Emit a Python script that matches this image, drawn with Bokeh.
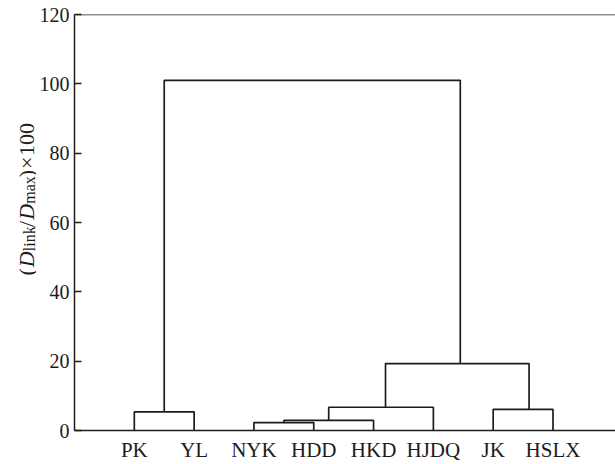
import math
from bokeh.plotting import figure
from bokeh.layouts import row
from bokeh.models import Range1d, FixedTicker, Span
from bokeh.core.properties import value
from bokeh.embed import file_html
from bokeh.resources import INLINE

# ---- data ----
leaves = ["PK", "YL", "NYK", "HDD", "HKD", "HJDQ", "JK", "HSLX"]
leaf_pos = [1, 2, 3, 4, 5, 6, 7, 8]
# dendrogram links (like scipy icoord / dcoord)
link_x_left = [1.0, 3.0, 3.5, 4.25, 7.0, 5.2, 1.5]
link_x_right = [2.0, 4.0, 5.0, 6.0, 8.0, 7.6, 6.45]
link_height = [5.4, 2.3, 2.9, 6.7, 6.1, 19.3, 101.0]
link_base_left = [0, 0, 2.3, 2.9, 0, 6.7, 5.4]
link_base_right = [0, 0, 0, 0, 0, 6.1, 19.3]
y_ticks = [0, 20, 40, 60, 80, 100, 120]

FONT = "Liberation Serif"
INK = "#1c1c1c"
W, H = 615, 464
LW = 36  # width of the y-title strip

# ---- main dendrogram figure ----
p = figure(width=W - LW, height=H, output_backend="svg", toolbar_location=None,
           x_range=Range1d(0, 9.045), y_range=Range1d(0, 120),
           min_border_left=35, min_border_right=0, min_border_top=14, min_border_bottom=34)
p.outline_line_color = None
p.xgrid.grid_line_color = None
p.ygrid.grid_line_color = None

p.xaxis.ticker = FixedTicker(ticks=leaf_pos)
p.xaxis.major_label_overrides = {pos: name for pos, name in zip(leaf_pos, leaves)}
p.xaxis.axis_line_color = INK
p.xaxis.axis_line_width = 1.5
p.xaxis.major_tick_line_color = None
p.xaxis.major_tick_in = 0
p.xaxis.major_tick_out = 0
p.xaxis.minor_tick_line_color = None
p.xaxis.major_label_standoff = 7
p.xaxis.major_label_text_font = FONT
p.xaxis.major_label_text_font_size = "21px"
p.xaxis.major_label_text_color = INK

p.yaxis.ticker = FixedTicker(ticks=y_ticks)
p.yaxis.axis_line_color = INK
p.yaxis.axis_line_width = 1.5
p.yaxis.major_tick_in = 7
p.yaxis.major_tick_out = 0
p.yaxis.major_tick_line_color = INK
p.yaxis.major_tick_line_width = 1.5
p.yaxis.minor_tick_line_color = None
p.yaxis.major_label_text_font = FONT
p.yaxis.major_label_text_font_size = "20px"
p.yaxis.major_label_text_color = INK
p.yaxis.major_label_standoff = 5

p.add_layout(Span(location=120, dimension="width", line_color=INK, line_width=1.5))

xs = [[xl, xl, xr, xr] for xl, xr in zip(link_x_left, link_x_right)]
ys = [[bl, h, h, br] for bl, h, br in zip(link_base_left, link_height, link_base_right)]
p.multi_line(xs, ys, line_color=INK, line_width=1.7)

# ---- y-title strip: (D_link/D_max)x100 ----
t = figure(width=LW, height=H, output_backend="svg", toolbar_location=None,
           x_range=Range1d(0, LW), y_range=Range1d(0, H),
           min_border=0, min_border_left=0, min_border_right=0,
           min_border_top=0, min_border_bottom=0)
t.axis.visible = False
t.grid.visible = False
t.outline_line_color = None

F, S = 22, 16
GAP = 2.0
adv = {"(": .333, ")": .333, "D": .722, "l": .278, "i": .278, "n": .5, "k": .5,
       "/": .278, "m": .778, "a": .444, "x": .5, "×": .564, "1": .5, "0": .5}
pieces = [("(", F, "normal", 0), ("D", F, "italic", 0), ("link", S, "normal", 3),
          ("/", F, "normal", 0), ("D", F, "italic", 0), ("max", S, "normal", 3),
          (")", F, "normal", 0), ("×", F, "normal", 0), ("100", F, "normal", 0)]
widths = [sum(adv[c] for c in txt) * sz for txt, sz, _, _ in pieces]
total = sum(widths) + GAP * (len(pieces) - 1)
center_y_img = 208.0
base_x = 26.0
cum = 0.0
for (txt, size, style, shift), w in zip(pieces, widths):
    y_img = center_y_img + total / 2 - cum
    t.text(x=[base_x + shift], y=[H - y_img], text=[txt], angle=math.pi / 2,
           text_align="left", text_baseline="alphabetic",
           text_font=value(FONT), text_font_size=value(f"{size}px"),
           text_font_style=style, text_color=INK)
    cum += w + GAP

layout = row(t, p, spacing=0)
open("out.html", "w").write(file_html(layout, INLINE))
